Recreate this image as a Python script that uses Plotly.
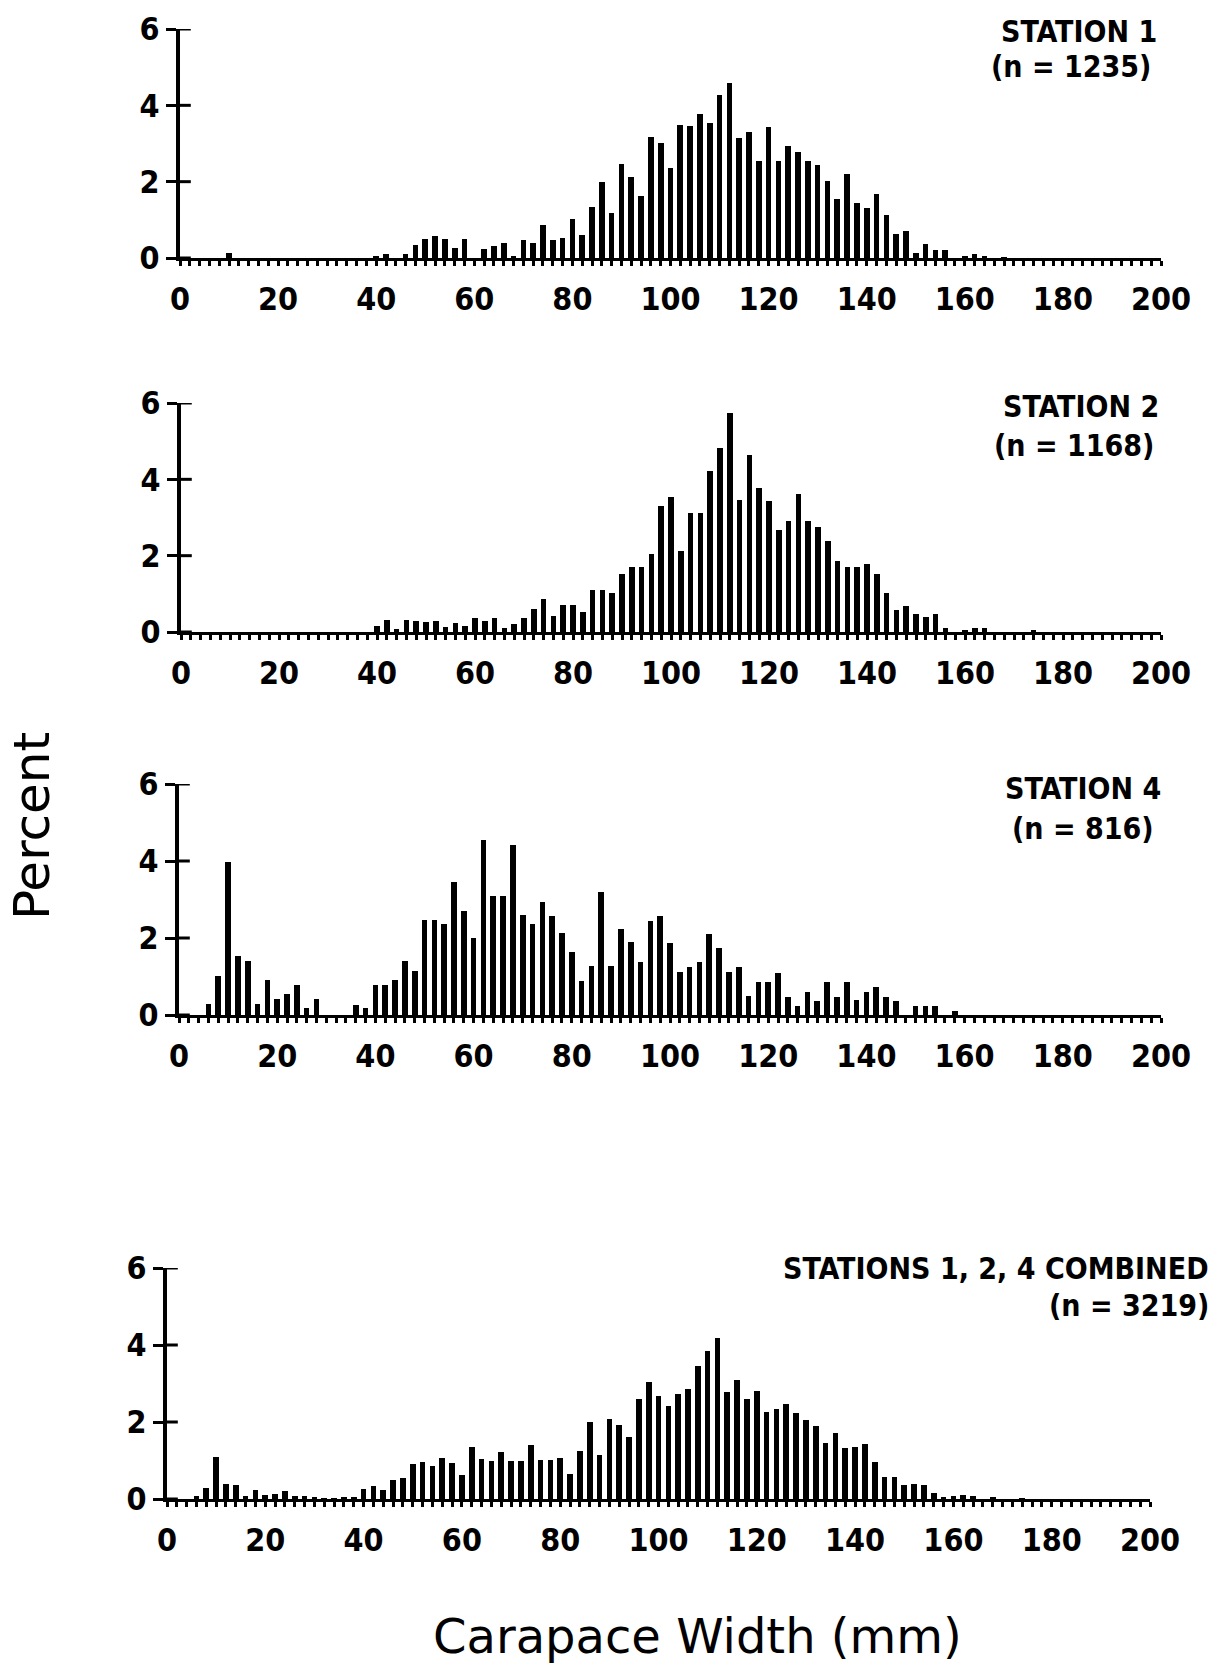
import plotly.graph_objects as go

# ---------------- data ----------------
widths_mm = list(range(0, 202, 2))  # carapace width classes (mm)

station1 = [0, 0, 0, 0, 0, 0.12, 0, 0, 0, 0,
            0, 0, 0, 0, 0, 0, 0, 0, 0, 0,
            0.05, 0.1, 0, 0.1, 0.35, 0.5, 0.58, 0.5, 0.26, 0.5,
            0, 0.23, 0.32, 0.39, 0.05, 0.46, 0.39, 0.87, 0.46, 0.52,
            1.01, 0.6, 1.34, 1.98, 1.17, 2.45, 2.12, 1.63, 3.18, 3.02,
            2.36, 3.48, 3.46, 3.78, 3.53, 4.26, 4.59, 3.14, 3.29, 2.55,
            3.44, 2.54, 2.94, 2.77, 2.54, 2.44, 2.03, 1.54, 2.19, 1.45,
            1.31, 1.69, 1.13, 0.62, 0.72, 0.13, 0.36, 0.22, 0.22, 0,
            0.05, 0.1, 0.05, 0, 0.02, 0, 0, 0, 0, 0,
            0, 0, 0, 0, 0, 0, 0, 0, 0, 0, 0]

station2 = [0, 0, 0, 0, 0, 0, 0, 0, 0, 0,
            0, 0, 0, 0, 0, 0, 0, 0, 0, 0,
            0.15, 0.32, 0.09, 0.32, 0.3, 0.26, 0.3, 0.13, 0.23, 0.15,
            0.37, 0.3, 0.36, 0.11, 0.2, 0.36, 0.61, 0.87, 0.43, 0.7,
            0.7, 0.52, 1.11, 1.11, 1.02, 1.52, 1.7, 1.7, 2.04, 3.3,
            3.55, 2.11, 3.13, 3.11, 4.22, 4.83, 5.74, 3.45, 4.63, 3.78,
            3.43, 2.68, 2.91, 3.61, 2.9, 2.76, 2.39, 1.87, 1.7, 1.7,
            1.78, 1.52, 1.02, 0.58, 0.67, 0.48, 0.39, 0.46, 0.1, 0,
            0.03, 0.1, 0.1, 0, 0, 0, 0, 0.03, 0, 0,
            0, 0, 0, 0, 0, 0, 0, 0, 0, 0, 0]

station4 = [0, 0, 0, 0.29, 1.02, 3.97, 1.52, 1.4, 0.29, 0.92,
            0.42, 0.54, 0.78, 0.17, 0.42, 0, 0, 0, 0.27, 0.17,
            0.78, 0.78, 0.91, 1.39, 1.13, 2.48, 2.48, 2.36, 3.45, 2.71,
            1.99, 4.55, 3.1, 3.1, 4.42, 2.6, 2.36, 2.94, 2.58, 2.12,
            1.63, 0.89, 1.26, 3.2, 1.26, 2.23, 1.89, 1.37, 2.45, 2.58,
            1.86, 1.11, 1.24, 1.37, 2.1, 1.75, 1.11, 1.24, 0.5, 0.87,
            0.87, 1.08, 0.48, 0.24, 0.6, 0.37, 0.86, 0.48, 0.86, 0.39,
            0.61, 0.73, 0.48, 0.37, 0, 0.24, 0.24, 0.24, 0, 0.11,
            0, 0, 0, 0, 0, 0, 0, 0, 0, 0,
            0, 0, 0, 0, 0, 0, 0, 0, 0, 0, 0]

combined = [0, 0, 0, 0.09, 0.29, 1.08, 0.39, 0.36, 0.09, 0.23,
            0.11, 0.13, 0.2, 0.09, 0.09, 0.03, 0.02, 0.02, 0.04, 0.03,
            0.26, 0.35, 0.23, 0.5, 0.55, 0.91, 0.97, 0.85, 1.06, 0.94,
            0.62, 1.36, 1.04, 0.99, 1.23, 0.99, 0.99, 1.41, 1.02, 1.02,
            1.06, 0.65, 1.24, 1.99, 1.15, 2.08, 1.92, 1.62, 2.6, 3.03,
            2.68, 2.42, 2.73, 2.87, 3.46, 3.85, 4.17, 2.79, 3.1, 2.6,
            2.81, 2.27, 2.34, 2.48, 2.23, 2.05, 1.9, 1.45, 1.71, 1.32,
            1.34, 1.43, 0.95, 0.58, 0.56, 0.37, 0.39, 0.36, 0.15, 0.05,
            0.08, 0.1, 0.08, 0, 0.03, 0, 0, 0.02, 0, 0,
            0, 0, 0, 0, 0, 0, 0, 0, 0, 0, 0]

panel_titles = ["STATION 1", "STATION 2", "STATION 4", "STATIONS 1, 2, 4 COMBINED"]
panel_counts = ["(n = 1235)", "(n = 1168)", "(n = 816)", "(n = 3219)"]
series = [station1, station2, station4, combined]

x_ticks = [0, 20, 40, 60, 80, 100, 120, 140, 160, 180, 200]
y_ticks = [0, 2, 4, 6]

# ---------------- layout geometry (pixels in a 1225x1670 page) ----------------
W, H = 1225, 1670
# (x of 0 mm, x of 200 mm, y of 0 %, y of 6 %)
panels_px = [(180, 1161, 258, 29),
             (181, 1161, 632, 403),
             (179, 1161, 1015, 784),
             (167, 1150, 1499, 1268)]
title_px = [((1159, 32), (1153, 67)),
            ((1161, 406), (1156, 445)),
            ((1163, 789), (1156, 828)),
            ((1211, 1268), (1211, 1305))]

BOLD_FONT = "DejaVu Sans Condensed, Liberation Sans Narrow, sans-serif"
LIGHT_FONT = "DejaVu Sans, Liberation Sans, sans-serif"

fig = go.Figure()
shapes = []
annotations = []

for i, (vals, (x0, x1, y0, y1)) in enumerate(zip(series, panels_px)):
    n = "" if i == 0 else str(i + 1)
    fig.add_trace(go.Bar(x=widths_mm, y=vals, width=1.15,
                         marker=dict(color="black", line=dict(width=0)),
                         xaxis="x" + n, yaxis="y" + n, showlegend=False))
    xdom = [x0 / W, x1 / W]
    ydom = [1 - y0 / H, 1 - y1 / H]
    fig.update_layout(**{
        "xaxis" + n: dict(domain=xdom, range=[0, 200], anchor="y" + n,
                          tickvals=x_ticks, ticktext=[str(v) for v in x_ticks],
                          ticks="outside", ticklen=5, tickwidth=3, tickcolor="black",
                          minor=dict(dtick=2, tick0=0, ticks="outside", ticklen=5,
                                     tickwidth=3, tickcolor="black"),
                          showline=True, linewidth=3, linecolor="black",
                          showgrid=False, zeroline=False, automargin=False,
                          ticklabelstandoff=6,
                          tickfont=dict(family=BOLD_FONT, size=32, color="black",
                                        weight="bold")),
        "yaxis" + n: dict(domain=ydom, range=[0, 6], anchor="x" + n,
                          tickvals=y_ticks, ticktext=[str(v) for v in y_ticks],
                          ticks="outside", ticklen=10, tickwidth=3, tickcolor="black",
                          showline=True, linewidth=4, linecolor="black",
                          showgrid=False, zeroline=False, automargin=False,
                          ticklabelstandoff=0,
                          tickfont=dict(family=BOLD_FONT, size=32, color="black",
                                        weight="bold")),
    })
    for yt in y_ticks:
        shapes.append(dict(type="line", xref="x" + n + " domain", yref="y" + n,
                           x0=0, x1=0.011, y0=yt, y1=yt,
                           line=dict(color="black", width=3)))
    (tx, ty), (cx, cy) = title_px[i]
    annotations.append(dict(text=panel_titles[i], xref="paper", yref="paper",
                            x=tx / W, y=1 - ty / H, xanchor="right", yanchor="middle",
                            showarrow=False,
                            font=dict(family=BOLD_FONT, size=30, color="black",
                                      weight="bold")))
    annotations.append(dict(text=panel_counts[i], xref="paper", yref="paper",
                            x=cx / W, y=1 - cy / H, xanchor="right", yanchor="middle",
                            showarrow=False,
                            font=dict(family=BOLD_FONT, size=30, color="black",
                                      weight="bold")))

annotations.append(dict(text="Percent", xref="paper", yref="paper",
                        x=32 / W, y=1 - 826 / H, xanchor="center", yanchor="middle",
                        textangle=-90, showarrow=False,
                        font=dict(family=LIGHT_FONT, size=50, color="black")))
annotations.append(dict(text="Carapace Width (mm)", xref="paper", yref="paper",
                        x=698 / W, y=1 - 1636 / H, xanchor="center", yanchor="middle",
                        showarrow=False,
                        font=dict(family=LIGHT_FONT, size=48, color="black")))

fig.update_layout(width=W, height=H,
                  margin=dict(l=0, r=0, t=0, b=0, pad=0, autoexpand=False),
                  paper_bgcolor="white", plot_bgcolor="white", showlegend=False,
                  bargap=0, shapes=shapes, annotations=annotations)

fig.write_html("out.html", config={"responsive": False})
